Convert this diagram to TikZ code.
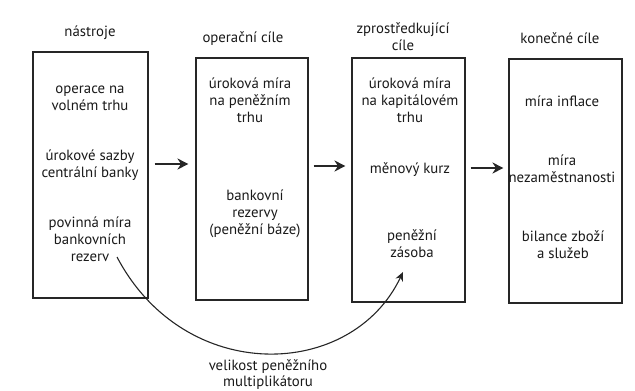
\documentclass[tikz,border=0pt]{standalone}
\usepackage{fontspec}
\setmainfont{PT Sans}
\usetikzlibrary{arrows.meta}
\begin{document}
\begin{tikzpicture}[x=1pt,y=-1pt,
  box/.style={draw=black!85, line width=1.1pt, minimum width=#1, inner sep=0pt},
  txt/.style={align=center, font=\fontsize{14.8}{17}\selectfont, inner sep=0pt, text=black!90},
  arr/.style={line width=1.7pt, draw=black!85, -{Stealth[length=11pt,width=11pt]}},
  curv/.style={line width=1.1pt, draw=black!85, -{Stealth[length=9pt,width=8pt]}}]
\useasboundingbox (0,0) rectangle (635,391);
% boxes
\node[box=115, minimum height=246] (b1) at (90.5,175) {};
\node[box=112, minimum height=242] (b2) at (252,179) {};
\node[box=113, minimum height=244] (b3) at (408.5,180) {};
\node[box=113, minimum height=244] (b4) at (565.5,181) {};
% headers
\node[txt] (h1) at (90,33) {nástroje};
\node[txt] (h2) at (243,39) {operační cíle};
\node[txt] (h3) at (403,37) {zprostředkující\\cíle};
\node[txt] (h4) at (560,38) {konečné cíle};
% box 1
\node[txt] (t11) at (90,98) {operace na\\volném trhu};
\node[txt] (t12) at (90,165) {úrokové sazby\\centrální banky};
\node[txt] (t13) at (90,239) {povinná míra\\bankovních\\rezerv};
% box 2
\node[txt] (t21) at (250,100) {úroková míra\\na peněžním\\trhu};
\node[txt] (t22) at (255,214) {bankovní\\rezervy\\(peněžní báze)};
% box 3
\node[txt] (t31) at (410,100) {úroková míra\\na kapitálovém\\trhu};
\node[txt] (t32) at (410,170) {měnový kurz};
\node[txt] (t33) at (412,244) {peněžní\\zásoba};
% box 4
\node[txt] (t41) at (562,101) {míra inflace};
\node[txt] (t42) at (562,169) {míra\\nezaměstnanosti};
\node[txt] (t43) at (563,245) {bilance zboží\\a služeb};
% bottom label
\node[txt, font=\fontsize{14.8}{16}\selectfont] (lab) at (268,375) {velikost peněžního\\multiplikátoru};
% arrows
\draw[arr] ([shift={(6,-11)}]b1.east) -- ([shift={(-7,-15)}]b2.west);
\draw[arr] ([shift={(5,-13)}]b2.east) -- ([shift={(-6,-14)}]b3.west);
\draw[arr] ([shift={(5,-12)}]b3.east) -- ([shift={(-5,-13)}]b4.west);
% curved arrow
\coordinate (cs) at (117,257);
\coordinate (ce) at (403,272);
\draw[curv] (cs) .. controls (185,386) and (352,380) .. (ce);
\end{tikzpicture}
\end{document}
